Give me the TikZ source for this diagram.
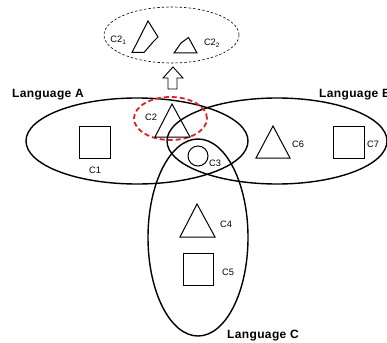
\documentclass[tikz,border=0pt]{standalone}
\usepackage{fontspec}
\setmainfont{Liberation Sans}
\usetikzlibrary{shapes.geometric}
\definecolor{cred}{RGB}{228,30,36}
\begin{document}
\begin{tikzpicture}[x=1pt,y=-1pt,
  lang/.style={draw, ellipse, line width=1.4pt, inner sep=0pt, outer sep=0pt},
  shp/.style={draw, line width=1pt, inner sep=0pt, outer sep=0pt},
  tri/.style={line width=1pt, line join=miter},
  lab/.style={font=\fontsize{9.3}{10}\selectfont, inner sep=0pt},
  ttl/.style={font=\bfseries\fontsize{12}{13}\selectfont\addfontfeature{LetterSpace=3}, inner sep=0pt, anchor=base west}]
\useasboundingbox (0,0) rectangle (387,342);
% language ellipses
\node[lang, minimum width=222pt, minimum height=86pt] (A) at (137,141) {};
\node[lang, minimum width=220pt, minimum height=86pt] (B) at (277,141) {};
\node[lang, minimum width=100pt, minimum height=197pt] (C) at (198,237.5) {};
% top dashed ellipse
\node[draw, ellipse, line width=0.6pt, dash pattern=on 2.5pt off 2pt, inner sep=0pt,
      minimum width=135pt, minimum height=56pt] (top) at (171.5,35) {};
% red dashed ellipse
\node[draw=cred, ellipse, line width=1.8pt, dash pattern=on 5pt off 3pt, inner sep=0pt,
      minimum width=73pt, minimum height=43pt] (red) at (170.5,118.5) {};
% titles
\node[ttl] (tA) at (12,97.5) {Language A};
\node[ttl] (tB) at (319,97.5) {Language B};
\node[ttl] (tC) at (227,338) {Language C};
% squares and circle
\node[shp, minimum width=31pt, minimum height=32pt] (c1) at (94.5,142) {};
\node[shp, minimum width=31pt, minimum height=32pt] (c7) at (348.5,142) {};
\node[shp, minimum width=30pt, minimum height=32pt] (c5) at (198,269) {};
\node[shp, circle, minimum size=20pt] (c3) at (198,156) {};
% triangles
\draw[tri] (172,104) -- (155,137) -- (190,137) -- cycle;
\draw[tri] (273,126) -- (256,158) -- (290,158) -- cycle;
\draw[tri] (197,204) -- (180,237) -- (215,237) -- cycle;
% split pieces
\draw[tri] (148,21) -- (158,37) -- (153,42) -- (144,52.5) -- (132,52.5) -- cycle;
\draw[tri] (174,53) -- (181,43) -- (188.5,37.5) -- (197,53) -- cycle;
% labels
\node[lab] (l1) at (95,170) {C1};
\node[lab] (l2) at (151,117) {C2};
\node[lab] (l3) at (215,163) {C3};
\node[lab] (l4) at (226,224) {C4};
\node[lab] (l5) at (228,272) {C5};
\node[lab] (l6) at (298,144) {C6};
\node[lab] (l7) at (373,144) {C7};
\node[lab, anchor=base] (l21) at (118.5,43) {C2\textsubscript{1}};
\node[lab, anchor=base] (l22) at (212,46) {C2\textsubscript{2}};
% hollow arrow from red ellipse to top ellipse
\draw[line width=0.9pt, line join=miter, fill=white]
  (168,89) -- (168,78) -- (163,78) -- (173,67) -- (183,78) -- (177,78) -- (177,89) -- cycle;
\end{tikzpicture}
\end{document}
